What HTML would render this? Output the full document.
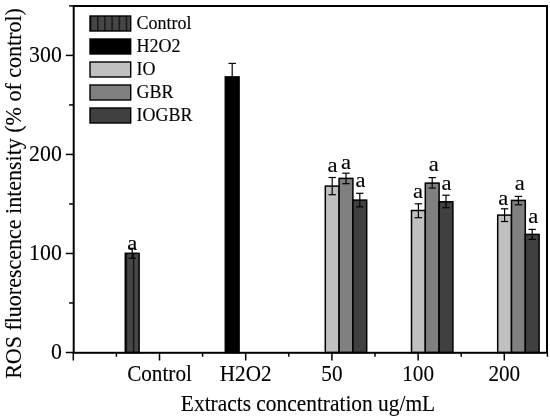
<!DOCTYPE html>
<html><head><meta charset="utf-8"><style>
html,body{margin:0;padding:0;background:#fff;}
svg{display:block;will-change:transform;}
text{font-family:"Liberation Serif", serif;fill:#000;stroke:#000;stroke-width:0.12px;}
</style></head><body>
<svg width="550" height="419" viewBox="0 0 550 419">
<defs><pattern id="stripe" patternUnits="userSpaceOnUse" x="4.7" y="0" width="7.12" height="20"><rect x="0" y="0" width="7.12" height="20" fill="#464646"/><rect x="0" y="0" width="1.2" height="20" fill="#0a0a0a"/></pattern></defs>
<rect x="125.30" y="253.30" width="13.80" height="99.20" fill="url(#stripe)" stroke="#000" stroke-width="1.5"/>
<line x1="132.20" y1="248.30" x2="132.20" y2="258.30" stroke="#000" stroke-width="1.2"/>
<line x1="128.50" y1="248.30" x2="135.90" y2="248.30" stroke="#000" stroke-width="1.2"/>
<line x1="128.50" y1="258.30" x2="135.90" y2="258.30" stroke="#000" stroke-width="1.2"/>
<text transform="translate(132.20,249.90) scale(1.05,1.0)" font-size="21.5" text-anchor="middle">a</text>
<rect x="225.30" y="76.90" width="13.80" height="275.60" fill="#000000" stroke="#000" stroke-width="1.5"/>
<line x1="232.20" y1="63.40" x2="232.20" y2="90.40" stroke="#000" stroke-width="1.2"/>
<line x1="228.50" y1="63.40" x2="235.90" y2="63.40" stroke="#000" stroke-width="1.2"/>
<line x1="228.50" y1="90.40" x2="235.90" y2="90.40" stroke="#000" stroke-width="1.2"/>
<rect x="325.30" y="186.10" width="13.80" height="166.40" fill="#c0c0c0" stroke="#000" stroke-width="1.5"/>
<line x1="332.20" y1="177.50" x2="332.20" y2="194.70" stroke="#000" stroke-width="1.2"/>
<line x1="328.50" y1="177.50" x2="335.90" y2="177.50" stroke="#000" stroke-width="1.2"/>
<line x1="328.50" y1="194.70" x2="335.90" y2="194.70" stroke="#000" stroke-width="1.2"/>
<text transform="translate(332.45,172.00) scale(1.05,1.0)" font-size="21.5" text-anchor="middle">a</text>
<rect x="339.10" y="178.40" width="13.80" height="174.10" fill="#808080" stroke="#000" stroke-width="1.5"/>
<line x1="346.00" y1="173.20" x2="346.00" y2="183.70" stroke="#000" stroke-width="1.2"/>
<line x1="342.30" y1="173.20" x2="349.70" y2="173.20" stroke="#000" stroke-width="1.2"/>
<line x1="342.30" y1="183.70" x2="349.70" y2="183.70" stroke="#000" stroke-width="1.2"/>
<text transform="translate(346.10,168.70) scale(1.05,1.0)" font-size="21.5" text-anchor="middle">a</text>
<rect x="352.90" y="200.10" width="13.80" height="152.40" fill="#404040" stroke="#000" stroke-width="1.5"/>
<line x1="359.80" y1="193.30" x2="359.80" y2="206.90" stroke="#000" stroke-width="1.2"/>
<line x1="356.10" y1="193.30" x2="363.50" y2="193.30" stroke="#000" stroke-width="1.2"/>
<line x1="356.10" y1="206.90" x2="363.50" y2="206.90" stroke="#000" stroke-width="1.2"/>
<text transform="translate(360.45,187.40) scale(1.05,1.0)" font-size="21.5" text-anchor="middle">a</text>
<rect x="411.50" y="210.50" width="13.80" height="142.00" fill="#c0c0c0" stroke="#000" stroke-width="1.5"/>
<line x1="418.40" y1="203.80" x2="418.40" y2="217.70" stroke="#000" stroke-width="1.2"/>
<line x1="414.70" y1="203.80" x2="422.10" y2="203.80" stroke="#000" stroke-width="1.2"/>
<line x1="414.70" y1="217.70" x2="422.10" y2="217.70" stroke="#000" stroke-width="1.2"/>
<text transform="translate(418.10,198.20) scale(1.05,1.0)" font-size="21.5" text-anchor="middle">a</text>
<rect x="425.30" y="183.10" width="13.80" height="169.40" fill="#808080" stroke="#000" stroke-width="1.5"/>
<line x1="432.20" y1="177.60" x2="432.20" y2="188.10" stroke="#000" stroke-width="1.2"/>
<line x1="428.50" y1="177.60" x2="435.90" y2="177.60" stroke="#000" stroke-width="1.2"/>
<line x1="428.50" y1="188.10" x2="435.90" y2="188.10" stroke="#000" stroke-width="1.2"/>
<text transform="translate(433.80,170.80) scale(1.05,1.0)" font-size="21.5" text-anchor="middle">a</text>
<rect x="439.10" y="201.80" width="13.80" height="150.70" fill="#404040" stroke="#000" stroke-width="1.5"/>
<line x1="446.00" y1="195.20" x2="446.00" y2="207.70" stroke="#000" stroke-width="1.2"/>
<line x1="442.30" y1="195.20" x2="449.70" y2="195.20" stroke="#000" stroke-width="1.2"/>
<line x1="442.30" y1="207.70" x2="449.70" y2="207.70" stroke="#000" stroke-width="1.2"/>
<text transform="translate(446.50,189.60) scale(1.05,1.0)" font-size="21.5" text-anchor="middle">a</text>
<rect x="497.70" y="215.10" width="13.80" height="137.40" fill="#c0c0c0" stroke="#000" stroke-width="1.5"/>
<line x1="504.60" y1="208.80" x2="504.60" y2="221.50" stroke="#000" stroke-width="1.2"/>
<line x1="500.90" y1="208.80" x2="508.30" y2="208.80" stroke="#000" stroke-width="1.2"/>
<line x1="500.90" y1="221.50" x2="508.30" y2="221.50" stroke="#000" stroke-width="1.2"/>
<text transform="translate(503.35,204.60) scale(1.05,1.0)" font-size="21.5" text-anchor="middle">a</text>
<rect x="511.50" y="200.40" width="13.80" height="152.10" fill="#808080" stroke="#000" stroke-width="1.5"/>
<line x1="518.40" y1="196.40" x2="518.40" y2="204.80" stroke="#000" stroke-width="1.2"/>
<line x1="514.70" y1="196.40" x2="522.10" y2="196.40" stroke="#000" stroke-width="1.2"/>
<line x1="514.70" y1="204.80" x2="522.10" y2="204.80" stroke="#000" stroke-width="1.2"/>
<text transform="translate(519.75,189.70) scale(1.05,1.0)" font-size="21.5" text-anchor="middle">a</text>
<rect x="525.30" y="234.40" width="13.80" height="118.10" fill="#404040" stroke="#000" stroke-width="1.5"/>
<line x1="532.20" y1="229.40" x2="532.20" y2="239.40" stroke="#000" stroke-width="1.2"/>
<line x1="528.50" y1="229.40" x2="535.90" y2="229.40" stroke="#000" stroke-width="1.2"/>
<line x1="528.50" y1="239.40" x2="535.90" y2="239.40" stroke="#000" stroke-width="1.2"/>
<text transform="translate(533.20,222.70) scale(1.05,1.0)" font-size="21.5" text-anchor="middle">a</text>
<rect x="73.7" y="6.0" width="473.30" height="346.80" fill="none" stroke="#000" stroke-width="2"/>
<line x1="65.80" y1="352.50" x2="73.30" y2="352.50" stroke="#000" stroke-width="1.5"/>
<text transform="translate(61.80,358.70) scale(1.0,1.03)" font-size="21.8" text-anchor="end">0</text>
<line x1="69.10" y1="302.99" x2="73.30" y2="302.99" stroke="#000" stroke-width="1.5"/>
<line x1="65.80" y1="253.47" x2="73.30" y2="253.47" stroke="#000" stroke-width="1.5"/>
<text transform="translate(61.80,259.67) scale(1.0,1.03)" font-size="21.8" text-anchor="end">100</text>
<line x1="69.10" y1="203.96" x2="73.30" y2="203.96" stroke="#000" stroke-width="1.5"/>
<line x1="65.80" y1="154.44" x2="73.30" y2="154.44" stroke="#000" stroke-width="1.5"/>
<text transform="translate(61.80,160.64) scale(1.0,1.03)" font-size="21.8" text-anchor="end">200</text>
<line x1="69.10" y1="104.93" x2="73.30" y2="104.93" stroke="#000" stroke-width="1.5"/>
<line x1="65.80" y1="55.41" x2="73.30" y2="55.41" stroke="#000" stroke-width="1.5"/>
<text transform="translate(61.80,61.61) scale(1.0,1.03)" font-size="21.8" text-anchor="end">300</text>
<line x1="69.10" y1="5.90" x2="73.30" y2="5.90" stroke="#000" stroke-width="1.5"/>
<line x1="73.30" y1="352.50" x2="73.30" y2="360.50" stroke="#000" stroke-width="1.5"/>
<line x1="116.40" y1="352.50" x2="116.40" y2="356.70" stroke="#000" stroke-width="1.5"/>
<line x1="159.50" y1="352.50" x2="159.50" y2="360.50" stroke="#000" stroke-width="1.5"/>
<line x1="202.60" y1="352.50" x2="202.60" y2="356.70" stroke="#000" stroke-width="1.5"/>
<line x1="245.70" y1="352.50" x2="245.70" y2="360.50" stroke="#000" stroke-width="1.5"/>
<line x1="288.80" y1="352.50" x2="288.80" y2="356.70" stroke="#000" stroke-width="1.5"/>
<line x1="331.90" y1="352.50" x2="331.90" y2="360.50" stroke="#000" stroke-width="1.5"/>
<line x1="375.00" y1="352.50" x2="375.00" y2="356.70" stroke="#000" stroke-width="1.5"/>
<line x1="418.10" y1="352.50" x2="418.10" y2="360.50" stroke="#000" stroke-width="1.5"/>
<line x1="461.20" y1="352.50" x2="461.20" y2="356.70" stroke="#000" stroke-width="1.5"/>
<line x1="504.30" y1="352.50" x2="504.30" y2="360.50" stroke="#000" stroke-width="1.5"/>
<line x1="547.40" y1="352.50" x2="547.40" y2="356.70" stroke="#000" stroke-width="1.5"/>
<text transform="translate(159.50,381.00) scale(1.0,1.06)" font-size="21.2" text-anchor="middle">Control</text>
<text transform="translate(245.70,381.00) scale(1.0,1.06)" font-size="21.2" text-anchor="middle">H2O2</text>
<text transform="translate(331.90,381.00) scale(1.0,1.06)" font-size="21.2" text-anchor="middle">50</text>
<text transform="translate(418.10,381.00) scale(1.0,1.06)" font-size="21.2" text-anchor="middle">100</text>
<text transform="translate(504.30,381.00) scale(1.0,1.06)" font-size="21.2" text-anchor="middle">200</text>
<text transform="translate(308.00,410.60) scale(1.0,1.03)" font-size="21.4" text-anchor="middle">Extracts concentration ug/mL</text>
<text transform="translate(21.4,193.5) rotate(-90) scale(1,1.05)" x="0" y="0" font-size="22" text-anchor="middle">ROS fluorescence intensity (% of control)</text>
<rect x="90" y="16.00" width="40.7" height="15" fill="url(#stripe)" stroke="#000" stroke-width="1.4"/>
<text transform="translate(136.40,29.40) scale(1.0,1.04)" font-size="18.0" text-anchor="start">Control</text>
<rect x="90" y="39.00" width="40.7" height="15" fill="#000000" stroke="#000" stroke-width="1.4"/>
<text transform="translate(136.40,52.40) scale(1.0,1.04)" font-size="18.0" text-anchor="start">H2O2</text>
<rect x="90" y="62.00" width="40.7" height="15" fill="#c0c0c0" stroke="#000" stroke-width="1.4"/>
<text transform="translate(136.40,75.40) scale(1.0,1.04)" font-size="18.0" text-anchor="start">IO</text>
<rect x="90" y="85.00" width="40.7" height="15" fill="#808080" stroke="#000" stroke-width="1.4"/>
<text transform="translate(136.40,98.40) scale(1.0,1.04)" font-size="18.0" text-anchor="start">GBR</text>
<rect x="90" y="108.00" width="40.7" height="15" fill="#404040" stroke="#000" stroke-width="1.4"/>
<text transform="translate(136.40,121.40) scale(1.0,1.04)" font-size="18.0" text-anchor="start">IOGBR</text>
</svg>
</body></html>
